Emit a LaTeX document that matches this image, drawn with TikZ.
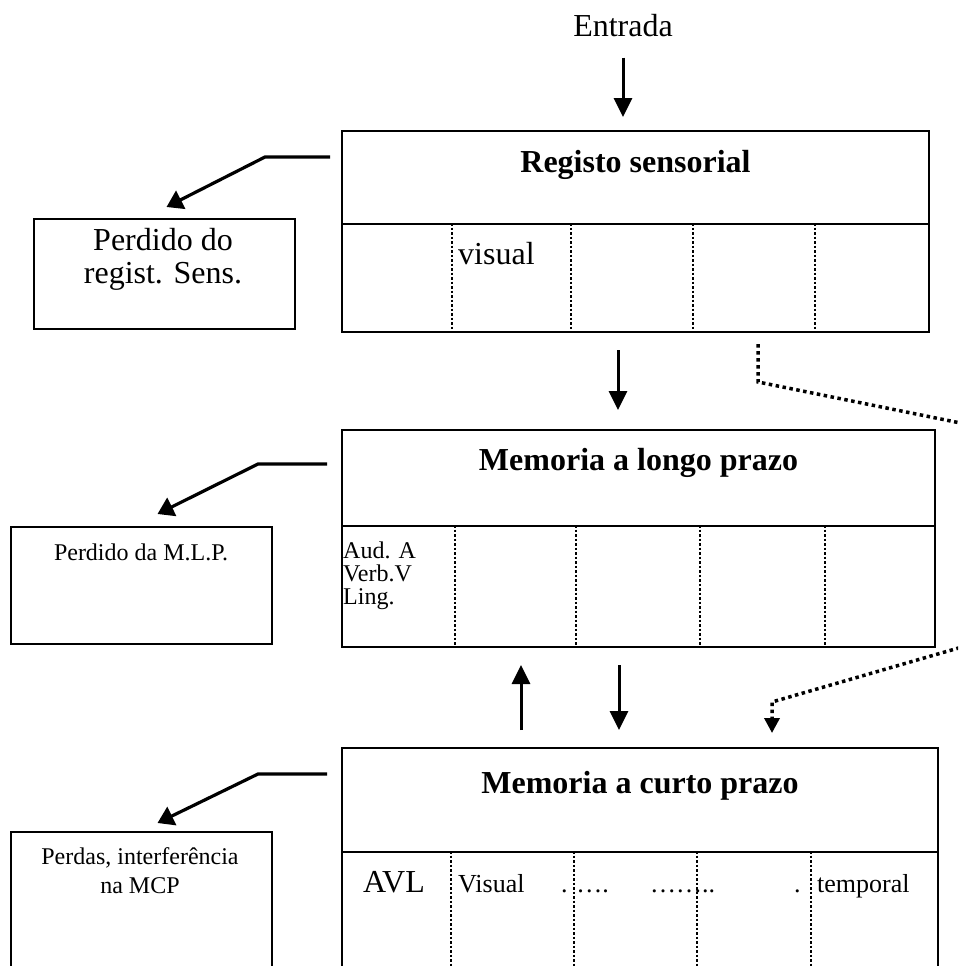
\documentclass[tikz,border=0pt]{standalone}
\usepackage{fontspec}
\setmainfont{Liberation Serif}
\usetikzlibrary{arrows.meta}

\begin{document}
\begin{tikzpicture}[x=1pt,y=-1pt,
   box/.style={draw,line width=2pt,inner sep=0pt,anchor=north west},
   cell/.style={line width=2.5pt,dotted},
   flow/.style={line width=3pt,-{Triangle[width=18pt,length=19pt]}},
   loss/.style={line width=3.2pt,-{Triangle[width=20pt,length=16pt]}},
   link/.style={line width=3.5pt,dash pattern=on 3.5pt off 3.5pt},
   big/.style={font=\fontsize{32}{33}\selectfont,inner sep=0pt},
   mid/.style={font=\fontsize{26}{21.5}\selectfont,inner sep=0pt},
   tight/.style={font=\fontsize{24}{23}\selectfont,inner sep=0pt},
   small/.style={font=\fontsize{24}{29}\selectfont,inner sep=0pt},
   title/.style={font=\fontsize{32}{33}\selectfont\bfseries,inner sep=0pt,anchor=base}]
\useasboundingbox (0,0) rectangle (958,966);
\clip (0,0) rectangle (958,966);

\node[big,anchor=base] (entrada) at (623,37) {Entrada};

\node[box,minimum width=587pt,minimum height=93pt] (rs) at (341,130) {};
\node[box,minimum width=587pt,minimum height=108pt] (rscell) at (341,223) {};
\node[title] at ([yshift=-42pt]rs.north) {Registo sensorial};
\foreach \x in {452,571,693,815}
   \draw[cell] (\x,0 |- rscell.north) -- (\x,0 |- rscell.south);
\node[big,anchor=base west] at (458,264) {visual};

\node[box,minimum width=593pt,minimum height=96pt] (mlp) at (341,429) {};
\node[box,minimum width=593pt,minimum height=121pt] (mlpcell) at (341,525) {};
\node[title] at ([yshift=-41pt]mlp.north) {Memoria a longo prazo};
\foreach \x in {455,576,700,825}
   \draw[cell] (\x,0 |- mlpcell.north) -- (\x,0 |- mlpcell.south);
\node[tight,align=left,anchor=north west] at (343,542) {Aud. A\\Verb.V\\Ling.};

\node[box,minimum width=596pt,minimum height=104pt] (mcp) at (341,747) {};
\node[box,minimum width=596pt,minimum height=160pt] (mcpcell) at (341,851) {};
\node[title] at ([yshift=-46pt]mcp.north) {Memoria a curto prazo};
\foreach \x in {451,574,697,811}
   \draw[cell] (\x,0 |- mcpcell.north) -- (\x,0 |- mcpcell.south);
\node[big,anchor=base] at (394,892) {AVL};
\node[mid,anchor=base west] at (458,892) {Visual};
\node[mid,anchor=base west] at (561,892) {. ….};
\node[mid,anchor=base west] at (650,892) {……..};
\node[mid,anchor=base west] at (794,892) {.};
\node[mid,anchor=base west] at (817,892) {temporal};

\node[box,minimum width=261pt,minimum height=110pt] (lrs) at (33,218) {};
\node[big,align=center,anchor=north] at (163,228) {Perdido do\\regist. Sens.};
\node[box,minimum width=261pt,minimum height=117pt] (lmlp) at (10,526) {};
\node[small,anchor=base] at (141,560) {Perdido da M.L.P.};
\node[box,minimum width=261pt,minimum height=160pt] (lmcp) at (10,831) {};
\node[small,align=center,anchor=north] at (140,847) {Perdas, interferência\\na MCP};

\draw[flow,shorten <=20pt,shorten >=13pt] (entrada.south) -- (entrada.south |- rs.north);
\draw[flow,shorten <=17pt,shorten >=19pt] (618,0 |- rscell.south) -- (618,0 |- mlp.north);
\draw[flow,shorten <=17pt,shorten >=17pt] (521,0 |- mcp.north) -- (521,0 |- mlpcell.south);
\draw[flow,shorten <=17pt,shorten >=17pt] (619,0 |- mlpcell.south) -- (619,0 |- mcp.north);

\draw[loss] ([xshift=-11pt,yshift=-27pt]rs.north west) -- ++(-65,0) -- ([xshift=2pt,yshift=11pt]lrs.north);
\draw[loss] ([xshift=-14pt,yshift=-35pt]mlp.north west) -- ++(-69,0) -- ([xshift=16pt,yshift=12pt]lmlp.north);
\draw[loss] ([xshift=-14pt,yshift=-27pt]mcp.north west) -- ++(-69,0) -- ([xshift=16pt,yshift=8pt]lmcp.north);

\coordinate (offA) at (1000,431);
\coordinate (offB) at (1000,636);
\draw[link,shorten <=11pt] (758,0 |- rscell.south) -- ++(0,49) -- (offA);
\draw[link,-{Triangle[width=15pt,length=15pt]},shorten >=14pt] (offB) -- (772,702) -- (772,0 |- mcp.north);
\end{tikzpicture}
\end{document}
